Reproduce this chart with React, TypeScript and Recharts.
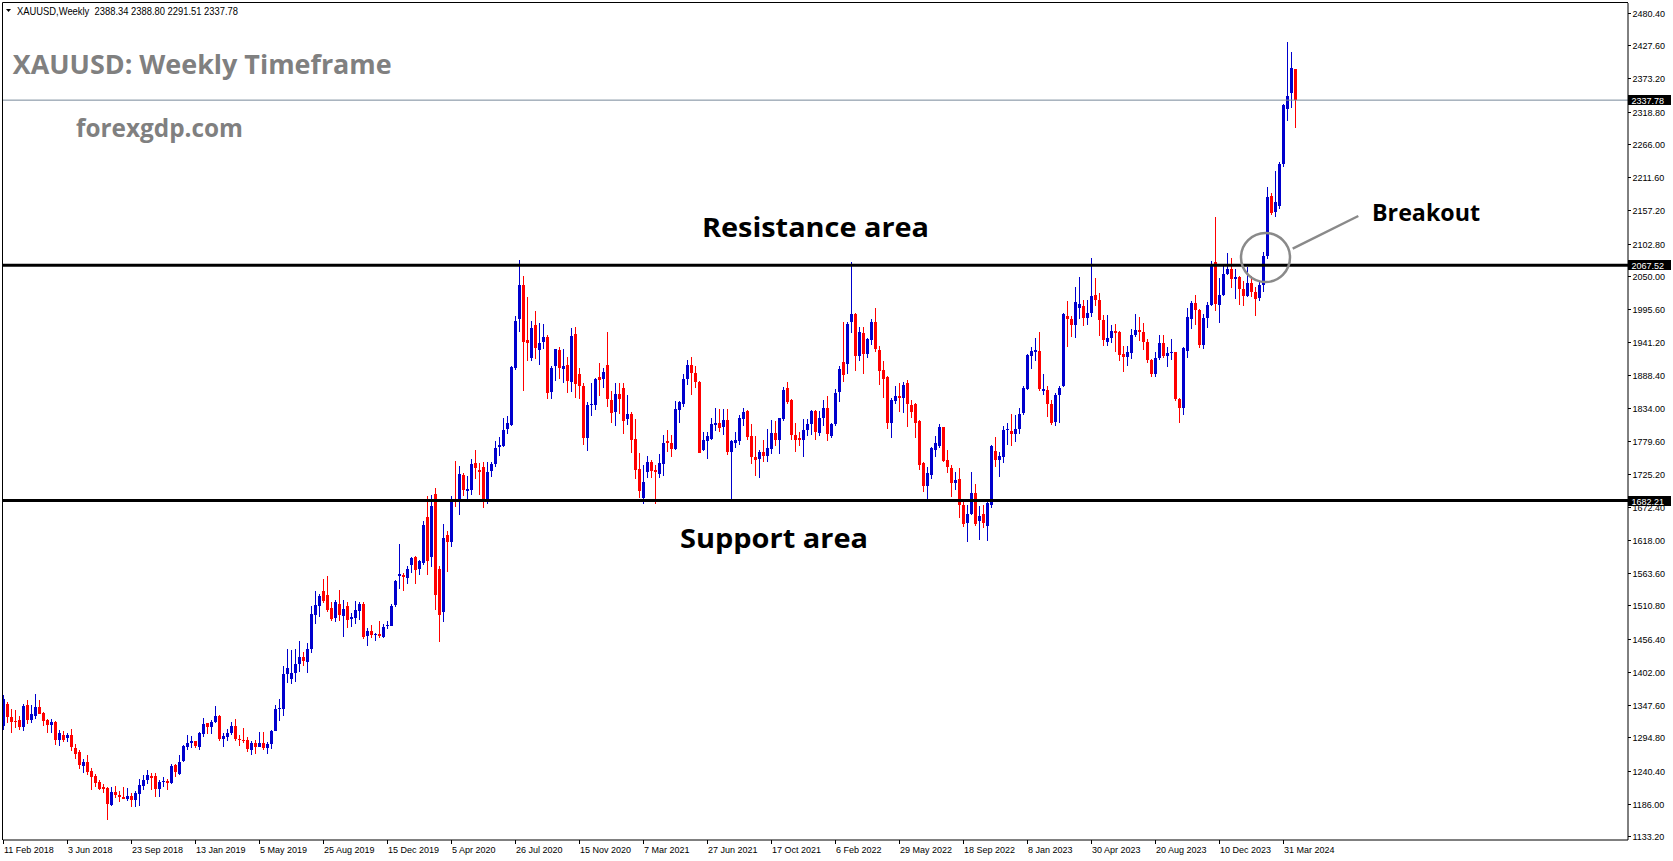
import { Bar, ComposedChart, ReferenceLine, XAxis, YAxis } from "recharts";

// weekly XAUUSD candles, first bar = week of 11 Feb 2018
const OPEN = [
  1313, 1350, 1328, 1322, 1323, 1312, 1347, 1323, 1331, 1345,
  1335, 1323, 1314, 1319, 1290, 1299, 1293, 1298, 1278, 1271,
  1249, 1255, 1240, 1232, 1222, 1214, 1211, 1184, 1206, 1201,
  1197, 1194, 1199, 1192, 1203, 1215, 1225, 1232, 1231, 1209,
  1221, 1223, 1220, 1249, 1234, 1256, 1279, 1285, 1288, 1279,
  1301, 1318, 1312, 1319, 1329, 1292, 1296, 1302, 1313, 1292,
  1291, 1290, 1275, 1286, 1280, 1286, 1277, 1284, 1305, 1341,
  1342, 1399, 1390, 1400, 1415, 1426, 1419, 1440, 1495, 1510,
  1535, 1528, 1506, 1490, 1513, 1493, 1510, 1487, 1490, 1502,
  1513, 1459, 1468, 1462, 1464, 1460, 1476, 1478, 1510, 1559,
  1560, 1556, 1578, 1590, 1570, 1579, 1656, 1590, 1693, 1570,
  1500, 1626, 1615, 1683, 1683, 1724, 1697, 1700, 1743, 1732,
  1737, 1683, 1731, 1743, 1770, 1772, 1799, 1806, 1899, 1979,
  2035, 1945, 1915, 1970, 1929, 1941, 1950, 1861, 1902, 1928,
  1898, 1904, 1877, 1955, 1890, 1870, 1785, 1838, 1838, 1884,
  1882, 1904, 1847, 1828, 1856, 1867, 1815, 1824, 1783, 1734,
  1686, 1728, 1746, 1732, 1726, 1742, 1779, 1777, 1767, 1831,
  1840, 1881, 1904, 1891, 1877, 1764, 1780, 1784, 1806, 1810,
  1802, 1814, 1762, 1776, 1780, 1817, 1829, 1788, 1754, 1749,
  1762, 1755, 1767, 1793, 1781, 1816, 1866, 1847, 1790, 1785,
  1781, 1798, 1807, 1829, 1793, 1817, 1833, 1788, 1807, 1860,
  1909, 1905, 1975, 1988, 1919, 1956, 1922, 1945, 1974, 1929,
  1896, 1885, 1810, 1846, 1854, 1851, 1874, 1838, 1840, 1813,
  1743, 1706, 1724, 1764, 1771, 1802, 1748, 1736, 1711, 1718,
  1675, 1645, 1659, 1694, 1648, 1660, 1640, 1675, 1763, 1749,
  1754, 1797, 1796, 1791, 1799, 1825, 1866, 1919, 1926, 1927,
  1861, 1864, 1841, 1810, 1855, 1870, 1984, 1979, 1970, 1998,
  2001, 1981, 1989, 2019, 2010, 1978, 1942, 1948, 1960, 1958,
  1923, 1918, 1924, 1954, 1962, 1958, 1942, 1912, 1889, 1915,
  1940, 1919, 1924, 1925, 1848, 1833, 1926, 1978, 2005, 1994,
  1937, 1980, 2002, 2073, 2002, 2019, 2053, 2062, 2045, 2049,
  2029, 2018, 2039, 2024, 2013, 2035, 2083, 2181, 2155, 2165,
  2234, 2323, 2350, 2388.34,
];

const HIGH = [
  1364, 1352, 1341, 1339, 1330, 1349, 1356, 1347, 1365, 1356,
  1336, 1325, 1325, 1322, 1307, 1305, 1302, 1308, 1284, 1274,
  1259, 1266, 1244, 1235, 1225, 1218, 1213, 1214, 1215, 1207,
  1213, 1211, 1204, 1207, 1226, 1233, 1242, 1236, 1236, 1225,
  1229, 1226, 1251, 1251, 1266, 1282, 1298, 1297, 1289, 1304,
  1326, 1318, 1323, 1346, 1331, 1301, 1309, 1320, 1324, 1298,
  1310, 1295, 1288, 1290, 1304, 1303, 1287, 1306, 1348, 1358,
  1411, 1439, 1438, 1439, 1453, 1434, 1449, 1510, 1535, 1530,
  1554, 1558, 1516, 1519, 1536, 1520, 1516, 1499, 1518, 1517,
  1516, 1474, 1478, 1466, 1485, 1480, 1485, 1513, 1553, 1611,
  1563, 1575, 1590, 1592, 1585, 1649, 1690, 1691, 1703, 1575,
  1644, 1632, 1690, 1747, 1739, 1727, 1723, 1751, 1765, 1744,
  1746, 1746, 1746, 1780, 1786, 1817, 1820, 1903, 1984, 2076,
  2050, 2016, 1977, 1993, 1973, 1972, 1953, 1903, 1931, 1934,
  1931, 1918, 1965, 1967, 1899, 1875, 1843, 1875, 1883, 1907,
  1900, 1959, 1862, 1874, 1875, 1875, 1855, 1828, 1816, 1760,
  1740, 1755, 1749, 1741, 1758, 1790, 1798, 1790, 1845, 1846,
  1890, 1912, 1917, 1903, 1878, 1795, 1795, 1818, 1834, 1832,
  1832, 1832, 1782, 1795, 1823, 1834, 1830, 1808, 1788, 1765,
  1781, 1800, 1814, 1813, 1818, 1868, 1877, 1849, 1809, 1794,
  1815, 1815, 1830, 1831, 1829, 1847, 1853, 1810, 1865, 1903,
  1975, 1975, 2072, 1990, 1966, 1966, 1948, 1980, 1998, 1936,
  1910, 1886, 1850, 1870, 1874, 1877, 1879, 1847, 1842, 1814,
  1746, 1738, 1770, 1788, 1807, 1803, 1765, 1740, 1729, 1735,
  1680, 1675, 1729, 1710, 1674, 1675, 1682, 1774, 1786, 1761,
  1804, 1810, 1824, 1823, 1833, 1870, 1922, 1934, 1949, 1959,
  1890, 1870, 1847, 1858, 1870, 1990, 2009, 1985, 2032, 2048,
  2010, 2010, 2080, 2047, 2022, 1986, 1986, 1970, 1971, 1960,
  1936, 1935, 1963, 1987, 1983, 1973, 1946, 1914, 1925, 1953,
  1953, 1933, 1947, 1926, 1850, 1933, 1997, 2009, 2019, 1996,
  1987, 2007, 2075, 2146, 2047, 2070, 2088, 2079, 2062, 2050,
  2041, 2065, 2050, 2032, 2041, 2089, 2195, 2185, 2222, 2236,
  2331, 2433, 2417, 2388.8,
];

const LOW = [
  1307, 1318, 1301, 1310, 1306, 1305, 1317, 1318, 1324, 1333,
  1313, 1301, 1302, 1282, 1281, 1287, 1287, 1273, 1259, 1243,
  1237, 1233, 1209, 1214, 1208, 1204, 1160, 1182, 1196, 1189,
  1193, 1190, 1180, 1181, 1183, 1208, 1218, 1208, 1197, 1197,
  1214, 1208, 1218, 1230, 1233, 1255, 1274, 1277, 1278, 1274,
  1296, 1300, 1300, 1318, 1288, 1279, 1289, 1298, 1288, 1281,
  1285, 1270, 1266, 1267, 1279, 1274, 1268, 1276, 1305, 1321,
  1330, 1384, 1382, 1386, 1401, 1411, 1400, 1432, 1480, 1491,
  1515, 1500, 1485, 1484, 1485, 1459, 1474, 1475, 1480, 1487,
  1456, 1445, 1457, 1452, 1458, 1457, 1472, 1477, 1508, 1537,
  1534, 1545, 1563, 1546, 1560, 1577, 1560, 1574, 1503, 1451,
  1483, 1566, 1607, 1671, 1659, 1690, 1683, 1691, 1718, 1691,
  1670, 1676, 1721, 1738, 1756, 1770, 1792, 1804, 1896, 1958,
  1862, 1910, 1910, 1914, 1904, 1931, 1848, 1848, 1878, 1882,
  1874, 1859, 1860, 1850, 1848, 1774, 1764, 1821, 1831, 1854,
  1866, 1836, 1809, 1805, 1824, 1792, 1806, 1760, 1718, 1687,
  1676, 1719, 1720, 1677, 1720, 1723, 1762, 1753, 1765, 1809,
  1836, 1872, 1855, 1866, 1760, 1763, 1750, 1782, 1796, 1794,
  1790, 1757, 1684, 1768, 1774, 1805, 1782, 1742, 1722, 1720,
  1745, 1746, 1759, 1771, 1758, 1812, 1840, 1781, 1762, 1772,
  1753, 1788, 1789, 1782, 1788, 1805, 1780, 1785, 1804, 1844,
  1877, 1889, 1957, 1895, 1910, 1890, 1915, 1937, 1926, 1872,
  1850, 1800, 1785, 1840, 1828, 1825, 1803, 1818, 1784, 1732,
  1697, 1680, 1717, 1753, 1768, 1745, 1727, 1688, 1700, 1654,
  1639, 1614, 1659, 1640, 1617, 1638, 1616, 1670, 1737, 1721,
  1744, 1774, 1772, 1778, 1792, 1822, 1863, 1897, 1911, 1861,
  1855, 1819, 1806, 1804, 1810, 1868, 1934, 1950, 1949, 1979,
  1968, 1970, 1982, 2000, 1952, 1936, 1935, 1940, 1925, 1910,
  1893, 1902, 1914, 1950, 1943, 1929, 1908, 1885, 1884, 1912,
  1915, 1901, 1913, 1846, 1810, 1823, 1915, 1963, 1970, 1932,
  1931, 1965, 2001, 1993, 1973, 2017, 2052, 2030, 2013, 2002,
  2001, 2016, 2015, 1984, 2009, 2024, 2078, 2150, 2146, 2160,
  2228, 2303, 2325, 2291.51,
];

const CLOSE = [
  1358, 1328, 1320, 1321, 1312, 1346, 1323, 1333, 1345, 1333,
  1322, 1314, 1319, 1290, 1301, 1290, 1298, 1278, 1268, 1249,
  1255, 1238, 1230, 1220, 1210, 1211, 1184, 1206, 1201, 1197,
  1194, 1199, 1192, 1203, 1217, 1225, 1233, 1229, 1209, 1221,
  1223, 1220, 1248, 1237, 1254, 1281, 1285, 1288, 1279, 1302,
  1317, 1312, 1320, 1329, 1292, 1297, 1302, 1313, 1292, 1291,
  1290, 1275, 1286, 1280, 1286, 1277, 1284, 1305, 1341, 1342,
  1399, 1409, 1400, 1415, 1426, 1419, 1440, 1497, 1511, 1526,
  1518, 1504, 1488, 1516, 1495, 1504, 1487, 1491, 1503, 1513,
  1459, 1468, 1462, 1464, 1460, 1476, 1478, 1510, 1550, 1562,
  1556, 1570, 1589, 1569, 1583, 1642, 1584, 1673, 1527, 1495,
  1621, 1615, 1683, 1681, 1726, 1699, 1701, 1742, 1734, 1728,
  1683, 1729, 1742, 1769, 1773, 1798, 1809, 1901, 1976, 2035,
  1942, 1940, 1964, 1932, 1940, 1950, 1859, 1900, 1930, 1899,
  1903, 1877, 1952, 1873, 1870, 1785, 1839, 1840, 1881, 1879,
  1893, 1848, 1826, 1857, 1847, 1813, 1824, 1781, 1732, 1698,
  1712, 1745, 1731, 1729, 1744, 1777, 1775, 1767, 1832, 1844,
  1881, 1904, 1891, 1876, 1761, 1781, 1788, 1808, 1810, 1802,
  1814, 1761, 1780, 1781, 1817, 1828, 1787, 1753, 1749, 1761,
  1755, 1768, 1793, 1781, 1817, 1864, 1843, 1790, 1781, 1781,
  1798, 1808, 1829, 1795, 1817, 1833, 1790, 1808, 1858, 1897,
  1888, 1971, 1988, 1919, 1959, 1922, 1947, 1974, 1929, 1895,
  1882, 1810, 1847, 1854, 1850, 1872, 1839, 1826, 1809, 1741,
  1706, 1727, 1768, 1776, 1802, 1746, 1736, 1712, 1716, 1675,
  1644, 1660, 1694, 1644, 1657, 1645, 1678, 1771, 1749, 1755,
  1798, 1799, 1791, 1799, 1824, 1866, 1921, 1927, 1929, 1864,
  1865, 1841, 1810, 1855, 1866, 1988, 1979, 1969, 2008, 2004,
  1982, 1989, 2017, 2010, 1978, 1945, 1949, 1960, 1957, 1920,
  1918, 1926, 1953, 1962, 1958, 1942, 1912, 1889, 1915, 1940,
  1919, 1924, 1925, 1848, 1833, 1932, 1982, 2005, 1994, 1937,
  1981, 2002, 2068, 2004, 2019, 2053, 2062, 2045, 2049, 2029,
  2018, 2039, 2024, 2013, 2035, 2083, 2180, 2153, 2171, 2233,
  2330, 2345, 2391, 2337.78,
];

// bar index of each date label on the time axis (one label every 16 weeks)
const X_TICKS = [0, 16, 32, 48, 64, 80, 96, 112, 128, 144, 160, 176, 192, 208, 224, 240, 256, 272, 288, 304, 320];
const X_LABELS = [
  "11 Feb 2018", "3 Jun 2018", "23 Sep 2018", "13 Jan 2019", "5 May 2019", "25 Aug 2019",
  "15 Dec 2019", "5 Apr 2020", "26 Jul 2020", "15 Nov 2020", "7 Mar 2021", "27 Jun 2021",
  "17 Oct 2021", "6 Feb 2022", "29 May 2022", "18 Sep 2022", "8 Jan 2023", "30 Apr 2023",
  "20 Aug 2023", "10 Dec 2023", "31 Mar 2024",
];

const Y_TICKS = [
  2480.4, 2427.6, 2373.2, 2318.8, 2266.0, 2211.6, 2157.2, 2102.8, 2050.0, 1995.6, 1941.2,
  1888.4, 1834.0, 1779.6, 1725.2, 1672.4, 1618.0, 1563.6, 1510.8, 1456.4, 1402.0, 1347.6,
  1294.8, 1240.4, 1186.0, 1133.2,
];

const RESISTANCE = 2067.52;
const SUPPORT = 1682.21;
const LAST_PRICE = 2337.78;
const PRICE_TAGS = [LAST_PRICE, RESISTANCE, SUPPORT];

const W = 1673;
const H = 861;
const X_MIN = -0.125;
const X_MAX = 406.125;
const Y_MIN = 1126.65;
const Y_MAX = 2496.77;
const BULL = "#0000CD";
const BEAR = "#FF0000";
const AXIS_FONT = "'Liberation Sans', Arial, sans-serif";
const NOTE_FONT = "'Open Sans', 'Liberation Sans', sans-serif";

const candles = OPEN.map((o, i) => ({
  i,
  open: o,
  high: HIGH[i],
  low: LOW[i],
  close: CLOSE[i],
}));

function Candle(props: any) {
  const { x, y, width, height, payload } = props;
  if (x == null || y == null || !payload) return null;
  const top = Math.min(y, y + height);
  const h = Math.abs(height);
  const { open, close, high, low } = payload;
  const span = high - low || 1;
  const py = (p: number) => top + ((high - p) / span) * h;
  const cx = Math.floor(x + width / 2) + 0.5;
  const color = close >= open ? BULL : BEAR;
  const yo = py(open);
  const yc = py(close);
  const bodyTop = Math.round(Math.min(yo, yc));
  const bodyH = Math.max(1, Math.round(Math.abs(yo - yc)));
  return (
    <g>
      <line x1={cx} x2={cx} y1={top} y2={top + h} stroke={color} strokeWidth={1} shapeRendering="crispEdges" />
      <rect x={cx - 1.5} y={bodyTop} width={3} height={bodyH} fill={color} shapeRendering="crispEdges" />
    </g>
  );
}

function TimeTick(props: any) {
  const { x, y, payload } = props;
  const idx = X_TICKS.indexOf(payload.value);
  const tx = Math.floor(x) + 0.5;
  return (
    <g>
      <line x1={tx} x2={tx} y1={y} y2={y + 4} stroke="#000" shapeRendering="crispEdges" />
      <text x={tx + 0.5} y={y + 13} fontSize={9} fontFamily={AXIS_FONT} fill="#000">
        {X_LABELS[idx]}
      </text>
    </g>
  );
}

function PriceTick(props: any) {
  const { x, y, payload } = props;
  const v = payload.value as number;
  const label = v.toFixed(2);
  if (PRICE_TAGS.includes(v)) {
    return (
      <g>
        <rect x={x} y={Math.round(y) - 5} width={43} height={10} fill="#000" />
        <text x={x + 3.5} y={Math.round(y) + 3.5} fontSize={9} fontFamily={AXIS_FONT} fill="#fff">
          {label}
        </text>
      </g>
    );
  }
  const ty = Math.round(y) + 0.5;
  return (
    <g>
      <line x1={x} x2={x + 3} y1={ty} y2={ty} stroke="#000" shapeRendering="crispEdges" />
      <text x={x + 4.5} y={ty + 3} fontSize={9} fontFamily={AXIS_FONT} fill="#000">
        {label}
      </text>
    </g>
  );
}

function Notes() {
  return (
    <svg
      width={W}
      height={H}
      style={{ position: "absolute", left: 0, top: 0, pointerEvents: "none" }}
    >
      <line x1={2.5} x2={2.5} y1={2.5} y2={840} stroke="#000" />
      <line x1={2.5} x2={1628} y1={2.5} y2={2.5} stroke="#000" />
      <path d="M6 9 L11 9 L8.5 12 Z" fill="#000" />
      <text
        x={17}
        y={14.5}
        fontSize={10.5}
        fontFamily={AXIS_FONT}
        textLength={221}
        lengthAdjust="spacingAndGlyphs"
        style={{ whiteSpace: "pre" }}
      >
        {"XAUUSD,Weekly  2388.34 2388.80 2291.51 2337.78"}
      </text>
      <text x={12.7} y={74} fontSize={27} fontWeight={700} fontFamily={NOTE_FONT} fill="#808080"
        textLength={379} lengthAdjust="spacingAndGlyphs">
        XAUUSD: Weekly Timeframe
      </text>
      <text x={76} y={137} fontSize={25} fontWeight={700} fontFamily={NOTE_FONT} fill="#808080"
        textLength={167} lengthAdjust="spacingAndGlyphs">
        forexgdp.com
      </text>
      <text x={702} y={237} fontSize={26} fontWeight={700} fontFamily={NOTE_FONT} fill="#000"
        textLength={227} lengthAdjust="spacingAndGlyphs">
        Resistance area
      </text>
      <text x={680} y={548} fontSize={26} fontWeight={700} fontFamily={NOTE_FONT} fill="#000"
        textLength={188} lengthAdjust="spacingAndGlyphs">
        Support area
      </text>
      <text x={1372} y={221} fontSize={24} fontWeight={700} fontFamily={NOTE_FONT} fill="#000"
        textLength={108} lengthAdjust="spacingAndGlyphs">
        Breakout
      </text>
      <circle cx={1265.5} cy={257.5} r={24.5} fill="none" stroke="#8a8a8a" strokeWidth={2.5} />
      <line x1={1292.7} y1={248.7} x2={1358.3} y2={216} stroke="#8a8a8a" strokeWidth={2.5} />
    </svg>
  );
}

export default function App() {
  return (
    <div style={{ position: "absolute", left: 0, top: 0, width: W, height: H, background: "#fff" }}>
      <ComposedChart
        width={W}
        height={H}
        data={candles}
        margin={{ top: 3, right: 0, bottom: 0, left: 3 }}
      >
        <XAxis
          dataKey="i"
          type="number"
          domain={[X_MIN, X_MAX]}
          allowDataOverflow
          ticks={X_TICKS}
          interval={0}
          tickSize={0}
          tickMargin={0}
          tickLine={false}
          tick={<TimeTick />}
          axisLine={{ stroke: "#000" }}
          height={21}
        />
        <YAxis
          orientation="right"
          type="number"
          domain={[Y_MIN, Y_MAX]}
          allowDataOverflow
          ticks={[...Y_TICKS, ...PRICE_TAGS]}
          interval={0}
          tickSize={0}
          tickMargin={0}
          tickLine={false}
          tick={<PriceTick />}
          axisLine={{ stroke: "#000" }}
          width={45}
        />
        <ReferenceLine y={LAST_PRICE} stroke="#778899" strokeWidth={1} />
        <ReferenceLine y={RESISTANCE} stroke="#000" strokeWidth={3} />
        <ReferenceLine y={SUPPORT} stroke="#000" strokeWidth={3} />
        <Bar
          dataKey={(d: any) => [d.low, d.high]}
          barSize={3}
          shape={(p: any) => <Candle {...p} />}
          isAnimationActive={false}
        />
      </ComposedChart>
      <Notes />
    </div>
  );
}
